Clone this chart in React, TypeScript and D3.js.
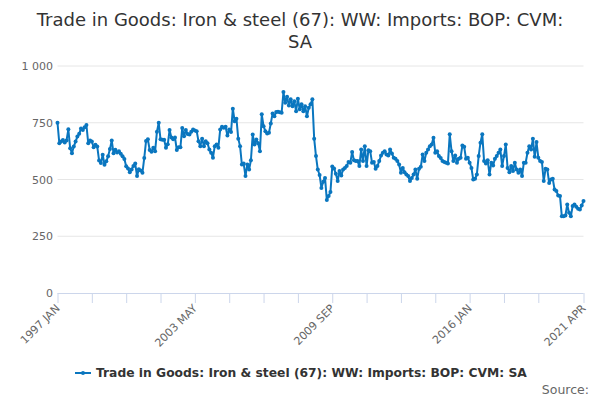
import * as d3 from 'd3';

const START_YEAR = 1997;
const MONTHS = ['JAN', 'FEB', 'MAR', 'APR', 'MAY', 'JUN', 'JUL', 'AUG', 'SEP', 'OCT', 'NOV', 'DEC'];

// monthly, 1997 JAN .. 2021 APR
const imports = [
  750, 660, 667, 674, 663, 672, 721, 638, 616, 645,
  667, 689, 701, 725, 718, 730, 740, 660, 672, 667,
  642, 653, 645, 584, 573, 609, 565, 580, 602, 634,
  672, 616, 631, 619, 624, 613, 602, 590, 558, 548,
  532, 544, 560, 570, 515, 545, 540, 530, 595, 670,
  677, 630, 622, 640, 625, 710, 750, 677, 675, 675,
  640, 655, 718, 685, 677, 685, 630, 642, 642, 727,
  690, 718, 700, 698, 710, 720, 716, 713, 669, 647,
  680, 647, 669, 660, 632, 618, 596, 647, 654, 640,
  720, 732, 728, 732, 694, 720, 709, 812, 757, 768,
  680, 647, 566, 570, 515, 566, 544, 585, 698, 654,
  676, 660, 625, 787, 735, 713, 703, 706, 747, 791,
  779, 797, 798, 796, 794, 885, 838, 865, 826, 853,
  823, 845, 801, 856, 809, 831, 801, 823, 779, 816,
  831, 853, 680, 603, 544, 520, 463, 490, 507, 410,
  427, 445, 557, 549, 525, 493, 537, 518, 544, 551,
  559, 577, 574, 621, 585, 581, 581, 559, 632, 581,
  647, 559, 629, 625, 574, 577, 547, 559, 581, 606,
  618, 625, 610, 606, 632, 615, 596, 591, 581, 566,
  530, 551, 532, 522, 515, 493, 507, 522, 544, 503,
  547, 556, 610, 581, 618, 632, 647, 654, 684, 618,
  625, 603, 595, 581, 577, 574, 571, 699, 625, 581,
  606, 574, 591, 596, 650, 644, 591, 596, 574, 551,
  500, 503, 522, 603, 662, 699, 581, 571, 585, 522,
  574, 562, 591, 603, 618, 632, 559, 603, 654, 551,
  532, 559, 537, 574, 544, 530, 544, 515, 574, 574,
  618, 647, 632, 679, 600, 665, 596, 581, 577, 493,
  547, 544, 485, 500, 503, 456, 449, 430, 427, 338,
  338, 341, 390, 353, 338, 383, 390, 380, 371, 368,
  385, 405,
];

const categories = imports.map((_, i) => `${START_YEAR + Math.floor(i / 12)} ${MONTHS[i % 12]}`);
const tickLabels = ['1997 JAN', '2003 MAY', '2009 SEP', '2016 JAN', '2021 APR'];
const yTicks = [0, 250, 500, 750, 1000];
const TICK_STEP = 19;

const seriesName = 'Trade in Goods: Iron & steel (67): WW: Imports: BOP: CVM: SA';
const color = '#0a76bf';
const font = '"DejaVu Sans", Verdana, sans-serif';

export default function App() {
  const width = 600;
  const height = 400;
  const margin = { top: 66, right: 16, bottom: 107, left: 57.5 };

  const x = d3
    .scalePoint<string>()
    .domain(categories)
    .range([margin.left, width - margin.right - 0.5]);
  const y = d3
    .scaleLinear()
    .domain([0, 1000])
    .range([height - margin.bottom, margin.top]);

  const fmt = d3.formatLocale({ decimal: '.', thousands: ' ', grouping: [3], currency: ['', ''] }).format(',');

  const line = d3
    .line<number>()
    .x((d, i) => x(categories[i]) as number)
    .y((d) => y(d));

  const tickCats = categories.filter((_, i) => i % TICK_STEP === 0 && i + TICK_STEP / 2 < categories.length);
  tickCats.push(categories[categories.length - 1]);

  const [x0, x1] = x.range();

  return (
    <svg
      width={width}
      height={height}
      style={{ position: 'absolute', left: 0, top: 0, fontFamily: font }}
    >
      <rect width={width} height={height} fill="#fff" />
      <text x={300} y={26} textAnchor="middle" fontSize={18} fill="#333">
        Trade in Goods: Iron &amp; steel (67): WW: Imports: BOP: CVM:
      </text>
      <text x={300} y={48} textAnchor="middle" fontSize={18} fill="#333">
        SA
      </text>

      {/* grid + y labels */}
      {yTicks.map((t) => (
        <g key={t}>
          {t > 0 && <line x1={x0} x2={x1} y1={y(t)} y2={y(t)} stroke="#e6e6e6" />}
          <text x={53} y={y(t) + 4} textAnchor="end" fontSize={11} fill="#666">
            {fmt(t)}
          </text>
        </g>
      ))}

      {/* x axis */}
      <line x1={x0} x2={x1} y1={y(0) + 0.5} y2={y(0) + 0.5} stroke="#ccd6eb" />
      {tickCats.map((c) => (
        <line
          key={c}
          x1={(x(c) as number) + 0.5}
          x2={(x(c) as number) + 0.5}
          y1={y(0)}
          y2={y(0) + 10}
          stroke="#ccd6eb"
        />
      ))}
      {tickLabels.map((c) => (
        <text
          key={c}
          transform={`translate(${(x(c) as number) + 3},${y(0) + 16}) rotate(-45)`}
          textAnchor="end"
          fontSize={11}
          fill="#666"
        >
          {c}
        </text>
      ))}

      {/* series */}
      <path d={line(imports) ?? ''} fill="none" stroke={color} strokeWidth={2} strokeLinejoin="round" />
      {imports.map((v, i) => (
        <circle key={i} cx={x(categories[i])} cy={y(v)} r={2} fill={color} />
      ))}

      {/* legend */}
      <line x1={75} x2={91} y1={373} y2={373} stroke={color} strokeWidth={2} />
      <circle cx={83} cy={373} r={2} fill={color} />
      <text x={96} y={377} fontSize={12.3} fontWeight="bold" fill="#333">
        {seriesName}
      </text>

      <text x={589} y={394} textAnchor="end" fontSize={12.5} fill="#666">
        Source:
      </text>
    </svg>
  );
}
